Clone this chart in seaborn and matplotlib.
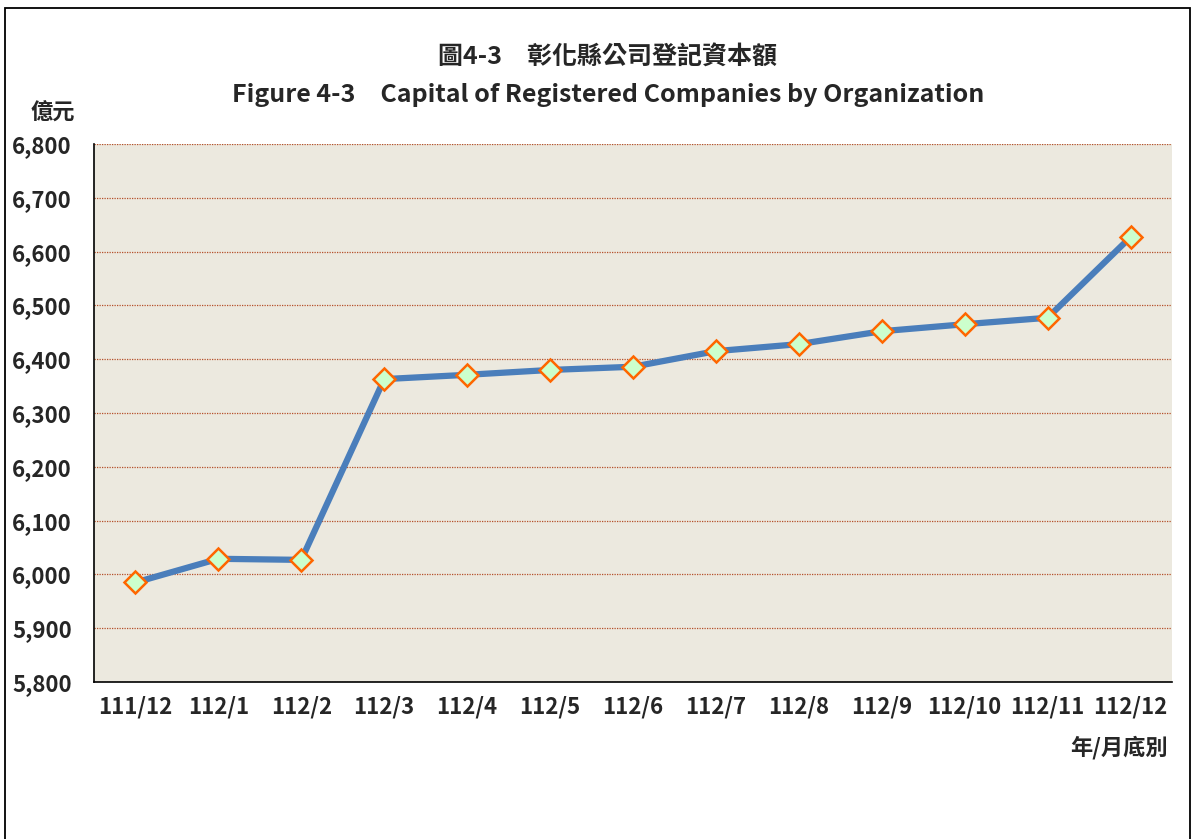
import pandas as pd
import numpy as np
import seaborn as sns
import matplotlib.pyplot as plt
from matplotlib.patches import Rectangle

# 資料（億元）
months = ["111/12", "112/1", "112/2", "112/3", "112/4", "112/5", "112/6",
          "112/7", "112/8", "112/9", "112/10", "112/11", "112/12"]
capital = [5985, 6029, 6027, 6363, 6371, 6380, 6386,
           6415, 6428, 6452, 6465, 6477, 6627]
y_ticks = [5800, 5900, 6000, 6100, 6200, 6300, 6400, 6500, 6600, 6700, 6800]

df = pd.DataFrame({"month": months, "capital": capital})
df["pos"] = np.arange(len(months))

sns.set_style("white")
plt.rcParams["font.family"] = ["Noto Sans CJK TC", "DejaVu Sans"]
plt.rcParams["font.weight"] = "bold"

fig = plt.figure(figsize=(11.95, 8.39), dpi=100)
ax = fig.add_axes([94 / 1195, 1 - 682 / 839, (1172 - 94) / 1195, (682 - 144) / 839])
ax.set_facecolor("#ECE9DF")

sns.lineplot(data=df, x="pos", y="capital", ax=ax, color="#4A7EBB", linewidth=4.5,
             marker="D", markersize=11, markerfacecolor="#CCFFCC",
             markeredgecolor="#FF6600", markeredgewidth=1.8, zorder=3)

ax.set_xlim(-0.5, len(months) - 0.5)
ax.set_ylim(5800, 6800)
ax.set_yticks(y_ticks)
ax.set_yticklabels([f"{v:,}" for v in y_ticks], fontsize=16, fontweight="bold")
ax.set_xticks(df["pos"])
ax.set_xticklabels(months, fontsize=16, fontweight="bold")
ax.set_xticks(np.arange(-0.5, len(months)), minor=True)
ax.tick_params(axis="x", which="major", length=0, pad=10)
ax.tick_params(axis="x", which="minor", direction="in", length=6, width=1, color="black")
ax.tick_params(axis="y", direction="in", length=4, width=1, color="black", pad=16)
ax.yaxis.grid(True, color="#B5502A", linestyle=(0, (1, 1)), linewidth=0.9)
ax.set_axisbelow(True)
ax.set_xlabel("")
ax.set_ylabel("")

for side in ["top", "right"]:
    ax.spines[side].set_visible(False)
for side in ["left", "bottom"]:
    ax.spines[side].set_color("black")
    ax.spines[side].set_linewidth(1.2)

fig.text(608 / 1195, 1 - 57 / 839, "圖4-3　彰化縣公司登記資本額", ha="center", va="center",
         fontsize=18, fontweight="bold")
fig.text(608 / 1195, 1 - 95 / 839, "Figure 4-3　Capital of Registered Companies by Organization",
         ha="center", va="center", fontsize=18, fontweight="bold")
fig.text(53 / 1195, 1 - 113 / 839, "億元", ha="center", va="center", fontsize=16, fontweight="bold")
fig.text(1168 / 1195, 1 - 748 / 839, "年/月底別", ha="right", va="center", fontsize=16, fontweight="bold")

fig.patches.append(Rectangle((5 / 1195, -0.01), (1190 - 5) / 1195, 1.01 - 8 / 839,
                             transform=fig.transFigure, fill=False,
                             edgecolor="black", linewidth=1.3))

fig.savefig("out.png", dpi=100)
